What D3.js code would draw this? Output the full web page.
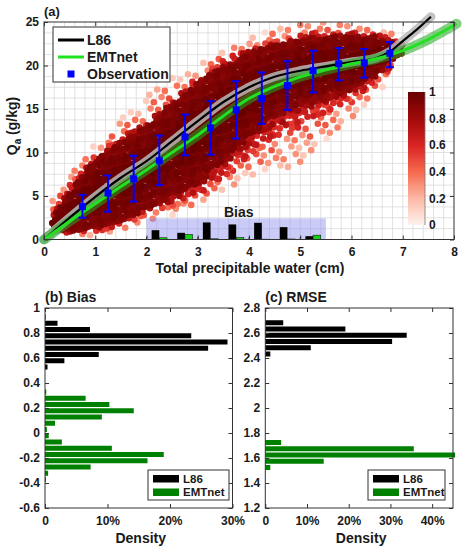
<!DOCTYPE html>
<html>
<head>
<meta charset="utf-8">
<script src="https://cdn.jsdelivr.net/npm/d3@7"></script>
<style>
  body { margin: 0; background: #fff; }
  text { font-family: "Liberation Sans", Arial, sans-serif; font-weight: bold; fill: #1a1a1a; }
</style>
</head>
<body>
<svg id="chart" width="464" height="550"></svg>
<script>
// ---- observations (binned means with spread) ----
var obsX    = [0.75, 1.25, 1.75, 2.25, 2.75, 3.25, 3.75, 4.25, 4.75, 5.25, 5.75, 6.25, 6.75];
var obsMean = [3.78, 5.33, 6.98, 9.05, 11.79, 12.83, 14.9, 16.2, 17.7, 19.4, 20.2, 20.3, 21.4];
var obsLow  = [2.5, 3.2, 4.36, 6.25, 9.67, 9.75, 11.6, 13.3, 14.9, 16.9, 18.3, 18.6, 19.8];
var obsHigh = [5.13, 7.36, 9.63, 11.94, 14.36, 15.9, 18.2, 19.2, 20.5, 21.7, 22.0, 21.9, 22.7];

// ---- model curves ----
var l86X = [0, 0.5, 1, 1.5, 2, 2.5, 3, 3.5, 4, 4.5, 5, 5.5, 6, 6.5, 6.75, 7, 7.25, 7.55];
var l86Y = [0, 2.5, 4.9, 7.1, 9.0, 11.3, 13.6, 15.8, 17.5, 18.7, 19.4, 19.9, 20.4, 20.9, 21.6, 22.8, 24.0, 25.6];
var emtX = [0, 0.5, 1, 1.5, 2, 2.5, 3, 3.5, 4, 4.5, 5, 5.5, 6, 6.5, 7, 7.5, 8.05];
var emtY = [0, 2.1, 4.1, 6.1, 8.0, 10.0, 12.0, 14.2, 16.2, 17.6, 18.7, 19.5, 20.2, 20.8, 21.7, 23.0, 24.8];

// ---- scatter cloud envelopes (data units): outer halo / middle / dense core ----
var envX      = [0.15, 0.5, 1.0, 1.5, 2.0, 2.5, 3.0, 3.5, 4.0, 4.5, 5.0, 5.5, 6.0, 6.5, 7.0];
var outerLow  = [0.6, 0.4, 0.5, 1.0, 2.0, 2.8, 3.8, 5.5, 7.0, 8.0, 8.5, 11.0, 13.5, 16.5, 20.8];
var outerHigh = [4.5, 7.5, 11.0, 13.8, 16.5, 18.8, 20.0, 21.8, 23.2, 24.2, 25.0, 25.0, 24.8, 24.3, 23.3];
var midLow    = [1.0, 0.6, 0.9, 1.6, 2.8, 3.8, 5.0, 7.0, 9.5, 11.5, 13.0, 14.5, 16.0, 18.0, 21.2];
var midHigh   = [3.2, 6.3, 9.8, 11.8, 13.8, 16.3, 18.6, 20.6, 22.0, 22.9, 23.6, 23.9, 23.9, 23.7, 22.8];
var coreLow   = [1.5, 1.0, 1.2, 2.0, 3.5, 5.0, 6.5, 9.0, 11.8, 14.3, 15.6, 16.5, 17.3, 19.0, 21.6];
var coreHigh  = [2.4, 5.6, 9.2, 11.2, 13.0, 15.6, 18.0, 20.0, 21.5, 22.3, 23.0, 23.3, 23.4, 23.3, 22.3];

// ---- bias inset ----
var biasX    = [2.25, 2.75, 3.25, 3.75, 4.25, 4.75, 5.25];
var biasL86  = [1.07, 0.77, 1.96, 1.73, 1.92, 1.42, 0.38];
var biasEMT  = [0.2, 0.58, 0.08, 0.23, 0.04, 0.06, 0.5];

// ---- histograms ----
var bBinL86  = [0.528, 0.578, 0.628, 0.678, 0.728, 0.778, 0.828, 0.878, 0.928];
var bDenL86  = [0.004, 0.031, 0.086, 0.261, 0.292, 0.234, 0.072, 0.020, 0.001];
var bBinEMT  = [-0.372, -0.322, -0.272, -0.222, -0.172, -0.122, -0.072, -0.022, 0.028, 0.078, 0.128, 0.178, 0.228, 0.278, 0.328];
var bDenEMT  = [0.0015, 0.005, 0.073, 0.164, 0.190, 0.107, 0.027, 0.006, 0.003, 0.016, 0.091, 0.142, 0.103, 0.065, 0.002];
var rBinL86  = [2.432, 2.482, 2.532, 2.582, 2.632, 2.682, 2.732];
var rDenL86  = [0.012, 0.109, 0.304, 0.339, 0.192, 0.043, 0.001];
var rBinEMT  = [1.524, 1.574, 1.624, 1.674, 1.724];
var rDenEMT  = [0.012, 0.140, 0.455, 0.356, 0.038];

var cbTicks = [0, 0.2, 0.4, 0.6, 0.8, 1];

var svg = d3.select('#chart');
var cmap = d3.scaleLinear()
    .domain([0, 0.2, 0.4, 0.6, 0.8, 1])
    .range(['#fff3ee', '#fcb8a4', '#f6694e', '#d92323', '#a10a0a', '#680000']);

// draws a MATLAB-like box with inward ticks on all sides
function boxAxes(g, xs, ys, xTicks, yTicks, xFmt, yFmt) {
    var xr = xs.range(), yr = ys.range();
    var parts = [
        g.append('g').attr('transform', 'translate(0,' + yr[0] + ')')
            .call(d3.axisBottom(xs).tickValues(xTicks).tickSize(-4).tickPadding(8).tickFormat(xFmt)),
        g.append('g').attr('transform', 'translate(0,' + yr[1] + ')')
            .call(d3.axisTop(xs).tickValues(xTicks).tickSize(-4).tickFormat('')),
        g.append('g').attr('transform', 'translate(' + xr[0] + ',0)')
            .call(d3.axisLeft(ys).tickValues(yTicks).tickSize(-4).tickPadding(5).tickFormat(yFmt)),
        g.append('g').attr('transform', 'translate(' + xr[1] + ',0)')
            .call(d3.axisRight(ys).tickValues(yTicks).tickSize(-4).tickFormat(''))
    ];
    parts.forEach(function(p) {
        p.attr('font-size', 12).attr('font-family', null).attr('color', '#333');
        p.select('.domain').remove();
    });
    g.append('rect')
        .attr('x', xr[0]).attr('y', yr[1])
        .attr('width', xr[1] - xr[0]).attr('height', yr[0] - yr[1])
        .attr('fill', 'none').attr('stroke', '#333').attr('stroke-width', 1);
}

function numFmt(d) { return String(+d.toFixed(1)); }

// ================= panel (a) =================
var x = d3.scaleLinear().domain([0, 8]).range([44, 454]);
var y = d3.scaleLinear().domain([0, 25]).range([239.5, 22]);

var ga = svg.append('g');
ga.append('defs').append('clipPath').attr('id', 'clipA')
    .append('rect').attr('x', 44).attr('y', 22).attr('width', 410).attr('height', 217.5);

// grid
var grid = ga.append('g').attr('stroke', '#d6d6d6').attr('stroke-width', 0.7);
grid.selectAll('line.gx').data(d3.range(0.2, 8, 0.2)).enter().append('line')
    .attr('x1', function(d) { return x(d); }).attr('x2', function(d) { return x(d); })
    .attr('y1', y(0)).attr('y2', y(25));
grid.selectAll('line.gy').data(d3.range(1.25, 25, 1.25)).enter().append('line')
    .attr('y1', function(d) { return y(d); }).attr('y2', function(d) { return y(d); })
    .attr('x1', x(0)).attr('x2', x(8));

// scatter cloud: lattice filled inside the read envelopes, shaded by density rank
function env(arr) { return d3.scaleLinear().domain(envX).range(arr).clamp(true); }
var oL = env(outerLow), oH = env(outerHigh), mL = env(midLow), mH = env(midHigh), cL = env(coreLow), cH = env(coreHigh);
var shift = [0, 1.2, -0.9, 0.5, -1.3, 0.8, -0.3, 1.4, -0.6];   // fixed offsets to break the lattice rows
var pts = [];
var stepX = 4.4, stepY = 3.8;
for (var j = 0; j * stepY < 220; j++) {
    for (var i = 0; i * stepX < 370; i++) {
        var px = 46 + i * stepX + (j % 2) * stepX / 2 + shift[(i * 4 + j * 7) % 9];
        var py = 22 + j * stepY + shift[(i * 5 + j * 2 + 3) % 9];
        var tone = shift[(i * 7 + j * 3 + 1) % 9] * 0.06;
        var xv = x.invert(px), yv = y.invert(py);
        if (xv < envX[0] || xv > envX[envX.length - 1]) continue;
        if (yv < oL(xv) || yv > oH(xv)) continue;
        var lo = cL(xv), hi = cH(xv), v, layer;
        if (yv >= lo && yv <= hi) {
            var mid = (lo + hi) / 2, half = Math.max((hi - lo) / 2, 0.01);
            v = 0.88 + 0.12 * (1 - Math.abs(yv - mid) / half) + tone * 0.5;
            layer = 2;
        } else if (yv >= mL(xv) && yv <= mH(xv)) {
            var dm = yv > hi ? (yv - hi) / Math.max(mH(xv) - hi, 0.01) : (lo - yv) / Math.max(lo - mL(xv), 0.01);
            if (dm > 0.35 && (i * 2 + j * 5) % 9 > 4) continue;
            v = 0.78 - 0.28 * dm + tone * 1.5;
            layer = 1;
        } else {
            var dout = yv > mH(xv) ? (yv - mH(xv)) / Math.max(oH(xv) - mH(xv), 0.01) : (mL(xv) - yv) / Math.max(mL(xv) - oL(xv), 0.01);
            if ((i * 4 + j * 7) % 9 > 1) continue;
            v = 0.45 - 0.3 * dout + tone * 1.5;
            layer = 0;
        }
        pts.push({ px: px, py: py, v: Math.max(0.08, Math.min(1, v)), layer: layer });
    }
}
pts.sort(function(a, b) { return a.layer - b.layer || a.v - b.v; });
ga.append('g').attr('clip-path', 'url(#clipA)')
    .selectAll('circle').data(pts).enter().append('circle')
    .attr('cx', function(d) { return d.px; })
    .attr('cy', function(d) { return d.py; })
    .attr('r', 3.3)
    .attr('fill', function(d) { return cmap(d.v); });

// curves
var lineL86 = d3.line().curve(d3.curveMonotoneX)
    .x(function(d, k) { return x(l86X[k]); }).y(function(d) { return y(d); });
var lineEMT = d3.line().curve(d3.curveMonotoneX)
    .x(function(d, k) { return x(emtX[k]); }).y(function(d) { return y(d); });
ga.append('path').attr('d', lineL86(l86Y)).attr('fill', 'none')
    .attr('stroke', '#b9b9b9').attr('stroke-width', 9).attr('stroke-opacity', 0.85).attr('stroke-linecap', 'round');
ga.append('path').attr('d', lineEMT(emtY)).attr('fill', 'none')
    .attr('stroke', '#1fa81f').attr('stroke-width', 10).attr('stroke-opacity', 0.55).attr('stroke-linecap', 'round');
ga.append('path').attr('d', lineL86(l86Y)).attr('fill', 'none')
    .attr('stroke', '#000').attr('stroke-width', 2.2);
ga.append('path').attr('d', lineEMT(emtY)).attr('fill', 'none')
    .attr('stroke', '#22e022').attr('stroke-width', 3);

// observations with error bars
var obs = ga.append('g').attr('stroke', '#0000ff').attr('stroke-width', 2);
obsX.forEach(function(ox, k) {
    var cx = x(ox);
    obs.append('line').attr('x1', cx).attr('x2', cx).attr('y1', y(obsLow[k])).attr('y2', y(obsHigh[k]));
    obs.append('line').attr('x1', cx - 4).attr('x2', cx + 4).attr('y1', y(obsLow[k])).attr('y2', y(obsLow[k]));
    obs.append('line').attr('x1', cx - 4).attr('x2', cx + 4).attr('y1', y(obsHigh[k])).attr('y2', y(obsHigh[k]));
});
ga.append('g').selectAll('rect').data(obsMean).enter().append('rect')
    .attr('x', function(d, k) { return x(obsX[k]) - 3.5; })
    .attr('y', function(d) { return y(d) - 3.5; })
    .attr('width', 7).attr('height', 7).attr('fill', '#0000ff');

// bias inset
ga.append('rect').attr('x', x(2)).attr('y', y(2.42))
    .attr('width', x(5.5) - x(2)).attr('height', y(0) - y(2.42))
    .attr('fill', '#8c8cf0').attr('fill-opacity', 0.45);
var bw = x(0.15) - x(0);
ga.append('g').selectAll('rect').data(biasL86).enter().append('rect')
    .attr('x', function(d, k) { return x(biasX[k]) - bw; })
    .attr('y', function(d) { return y(d); })
    .attr('width', bw).attr('height', function(d) { return y(0) - y(d); })
    .attr('fill', '#000');
ga.append('g').selectAll('rect').data(biasEMT).enter().append('rect')
    .attr('x', function(d, k) { return x(biasX[k]); })
    .attr('y', function(d) { return y(d); })
    .attr('width', bw).attr('height', function(d) { return y(0) - y(d); })
    .attr('fill', '#16d016').attr('stroke', '#000').attr('stroke-width', 0.5);
ga.append('g').selectAll('line').data([2, 3, 4, 5]).enter().append('line')
    .attr('x1', function(d) { return x(d); }).attr('x2', function(d) { return x(d); })
    .attr('y1', y(0)).attr('y2', y(0) - 2.5).attr('stroke', '#333');
ga.append('text').attr('x', x(3.8)).attr('y', 216.5).attr('text-anchor', 'middle')
    .attr('font-size', 14).text('Bias');

// colorbar
var cb = d3.scaleLinear().domain([0, 1]).range([225, 92]);
var grad = ga.append('defs').append('linearGradient').attr('id', 'cbGrad')
    .attr('x1', 0).attr('y1', 1).attr('x2', 0).attr('y2', 0);
d3.range(0, 1.001, 0.05).forEach(function(t) {
    grad.append('stop').attr('offset', t).attr('stop-color', cmap(t));
});
ga.append('rect').attr('x', 408).attr('y', cb(1)).attr('width', 17).attr('height', cb(0) - cb(1))
    .attr('fill', 'url(#cbGrad)');
ga.append('line').attr('x1', 425).attr('x2', 425).attr('y1', cb(1)).attr('y2', cb(0))
    .attr('stroke', '#777').attr('stroke-width', 0.8);
ga.append('g').selectAll('text').data(cbTicks).enter().append('text')
    .attr('x', 429).attr('y', function(d) { return cb(d); }).attr('dy', '0.35em')
    .attr('font-size', 12).text(numFmt);

boxAxes(ga, x, y, d3.range(0, 9), d3.range(0, 26, 5), d3.format('d'), d3.format('d'));

// legend (a)
var lg = ga.append('g');
lg.append('rect').attr('x', 53).attr('y', 27).attr('width', 117).attr('height', 55)
    .attr('fill', '#fff').attr('stroke', '#333').attr('stroke-width', 1);
lg.append('line').attr('x1', 58).attr('x2', 84).attr('y1', 40).attr('y2', 40).attr('stroke', '#000').attr('stroke-width', 3);
lg.append('line').attr('x1', 58).attr('x2', 84).attr('y1', 57).attr('y2', 57).attr('stroke', '#22e022').attr('stroke-width', 3);
lg.append('rect').attr('x', 67.5).attr('y', 70.5).attr('width', 7).attr('height', 7).attr('fill', '#0000ff');
lg.selectAll('text').data(['L86', 'EMTnet', 'Observation']).enter().append('text')
    .attr('x', 87).attr('y', function(d, k) { return 40 + 17 * k; }).attr('dy', '0.36em')
    .attr('font-size', 14).text(function(d) { return d; });

ga.append('text').attr('x', 44).attr('y', 16).attr('font-size', 13).text('(a)');
ga.append('text').attr('x', 250).attr('y', 273).attr('text-anchor', 'middle')
    .attr('font-size', 14).text('Total precipitable water (cm)');
var yl = ga.append('text').attr('transform', 'translate(17,126) rotate(-90)')
    .attr('text-anchor', 'middle').attr('font-size', 14);
yl.append('tspan').text('Q');
yl.append('tspan').attr('font-size', 10).attr('dy', 4).text('a');
yl.append('tspan').attr('dy', -4).text(' (g/kg)');

// ================= panels (b) and (c) =================
function histPanel(opts) {
    var g = svg.append('g');
    var xs = d3.scaleLinear().domain([0, opts.xMax]).range(opts.xRange);
    var ys = d3.scaleLinear().domain(opts.yDom).range([508, 308]);
    var half = 0.02;
    [[opts.bins1, opts.dens1, '#000'], [opts.bins2, opts.dens2, '#008000']].forEach(function(s) {
        g.append('g').selectAll('rect').data(s[1]).enter().append('rect')
            .attr('x', xs(0))
            .attr('y', function(d, k) { return ys(s[0][k] + half); })
            .attr('width', function(d) { return xs(d) - xs(0); })
            .attr('height', function(d, k) { return ys(s[0][k] - half) - ys(s[0][k] + half); })
            .attr('fill', s[2]);
    });
    boxAxes(g, xs, ys, opts.xTicks, opts.yTicks,
        function(d) { return d === 0 ? '0' : Math.round(d * 100) + '%'; }, numFmt);
    g.append('text').attr('x', opts.xRange[0]).attr('y', 302).attr('font-size', 14).text(opts.title);
    g.append('text').attr('x', (opts.xRange[0] + opts.xRange[1]) / 2 + 2).attr('y', 543)
        .attr('text-anchor', 'middle').attr('font-size', 14).text('Density');
    var lx = opts.legendX, lw = opts.legendW;
    g.append('rect').attr('x', lx).attr('y', 470).attr('width', lw).attr('height', 30)
        .attr('fill', '#fff').attr('stroke', '#333');
    [['L86', '#000', 475], ['EMTnet', '#008000', 488.5]].forEach(function(e) {
        g.append('rect').attr('x', lx + 5).attr('y', e[2]).attr('width', 26).attr('height', 7.5).attr('fill', e[1]);
        g.append('text').attr('x', lx + 35).attr('y', e[2] + 3.8).attr('dy', '0.36em')
            .attr('font-size', 11.5).text(e[0]);
    });
}

histPanel({
    xMax: 0.3, xRange: [45, 232.5], yDom: [-0.6, 1],
    xTicks: [0, 0.1, 0.2, 0.3], yTicks: d3.range(-0.6, 1.01, 0.2),
    bins1: bBinL86, dens1: bDenL86, bins2: bBinEMT, dens2: bDenEMT,
    title: '(b) Bias', legendX: 148, legendW: 81
});
histPanel({
    xMax: 0.45, xRange: [265.3, 453], yDom: [1.2, 2.8],
    xTicks: [0, 0.1, 0.2, 0.3, 0.4], yTicks: d3.range(1.2, 2.81, 0.2),
    bins1: rBinL86, dens1: rDenL86, bins2: rBinEMT, dens2: rDenEMT,
    title: '(c) RMSE', legendX: 368, legendW: 77
});
</script>
</body>
</html>
